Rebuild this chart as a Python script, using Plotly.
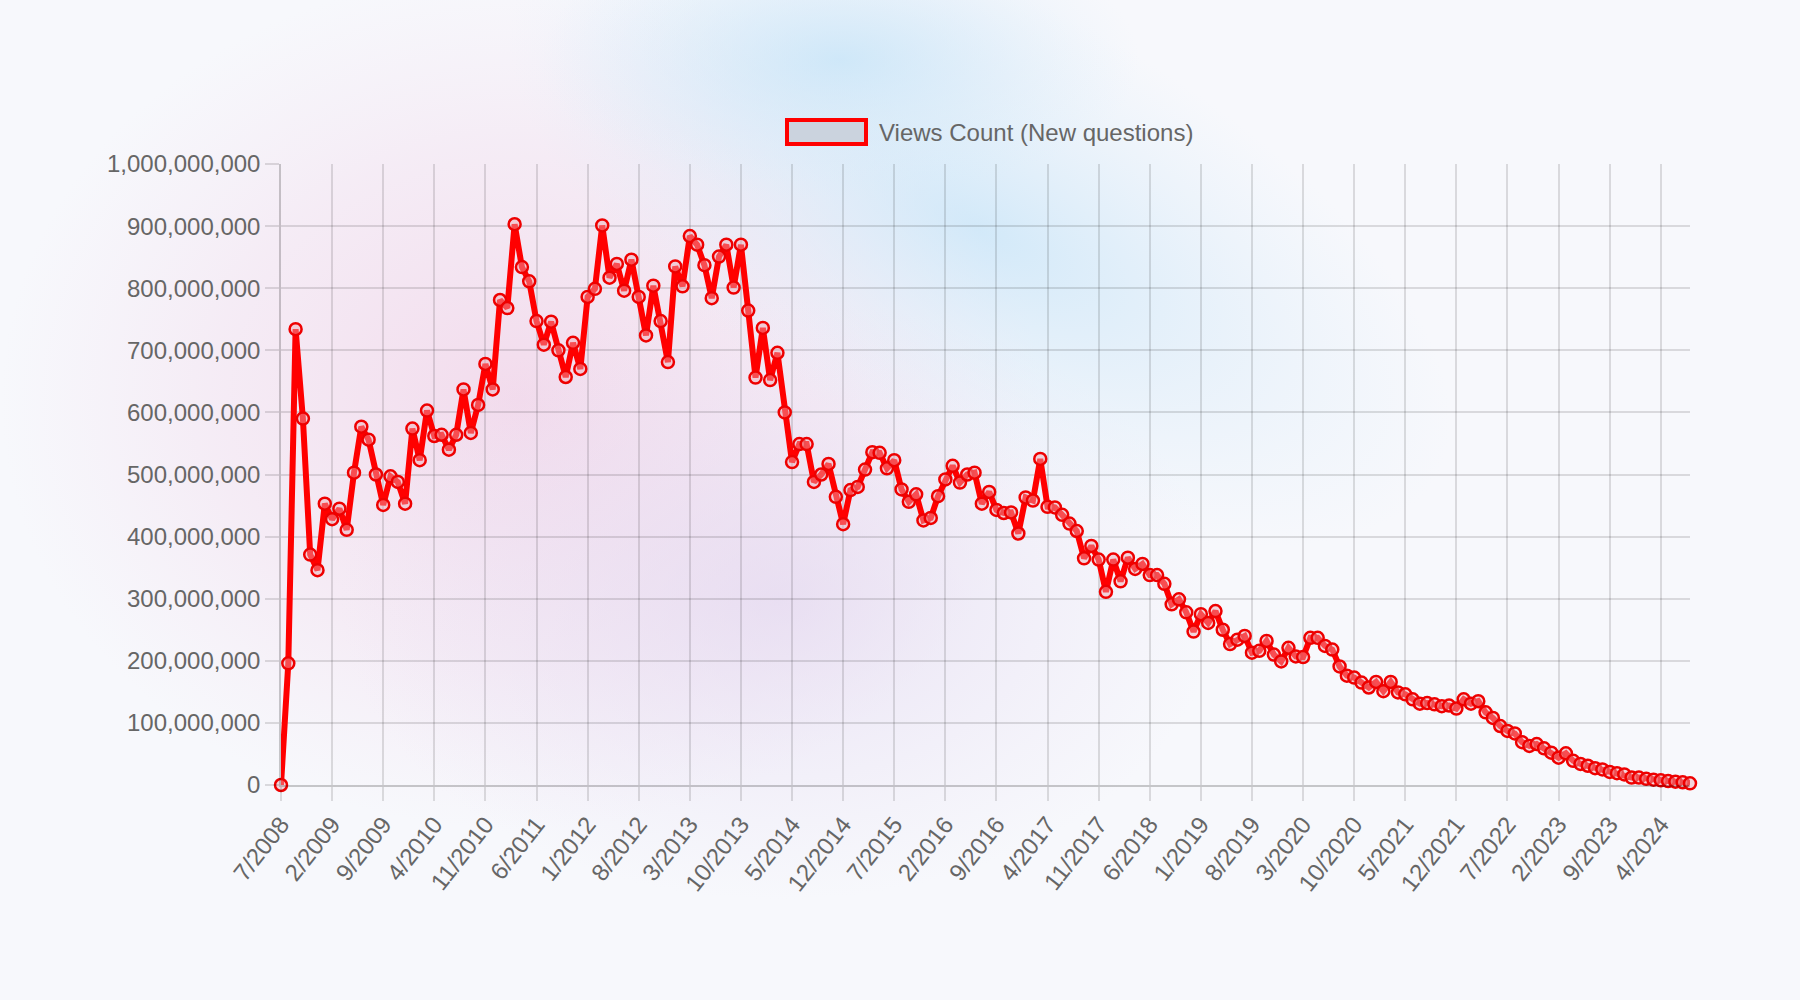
import base64
import plotly.graph_objects as go

# ---------------- data (views in millions) ----------------
start_year, start_month = 2008, 7
n_months = 194
months = []
y, m = start_year, start_month
for _ in range(n_months):
    months.append(f"{m}/{y}")
    m += 1
    if m > 12:
        m = 1
        y += 1

views_2008_2011 = [0, 196, 734, 590, 371, 346, 453, 428, 445, 411, 503, 577, 556, 500,
                   451, 497, 488, 453, 574, 523, 603, 562, 564, 540, 564, 637, 567, 612,
                   678, 637, 781, 768, 903, 834, 811, 747, 709, 746, 700, 657, 712, 670]
views_2012_2015 = [786, 799, 901, 817, 839, 796, 846, 786, 724, 804, 747, 681, 835, 803,
                   884, 870, 837, 784, 851, 870, 801, 870, 764, 656, 736, 652, 696, 600,
                   520, 549, 549, 488, 500, 517, 464, 420, 475, 480, 508, 536, 535, 510,
                   523, 476, 456, 468, 426, 430]
views_2016_2019 = [465, 492, 514, 487, 500, 503, 453, 472, 443, 438, 439, 405, 463, 458,
                   525, 448, 447, 435, 421, 409, 365, 385, 363, 311, 363, 328, 366, 348,
                   356, 338, 338, 324, 291, 299, 278, 247, 275, 261, 280, 250, 227, 234,
                   240, 213, 216, 232, 210, 199]
views_2020_2024 = [221, 207, 206, 237, 237, 224, 218, 191, 176, 173, 165, 157, 166, 151,
                   166, 149, 146, 138, 131, 132, 130, 127, 128, 123, 138, 131, 135, 117,
                   108, 95, 87, 83, 69, 63, 66, 59, 52, 44, 51, 39, 34, 31, 27, 25, 21,
                   19, 17, 12, 12, 10, 8.5, 7.5, 6.4, 5.3, 4.3, 2.7]
views_millions = views_2008_2011 + views_2012_2015 + views_2016_2019 + views_2020_2024
views = [v * 1e6 for v in views_millions]
tick_labels = months[::7]
series_name = "Views Count (New questions)"

# ---------------- layout geometry ----------------
W, H = 1800, 1000
L, R, T, B = 281, 110, 164, 215
PW, PH = W - L - R, H - T - B


def px_x(x):
    return (x - L) / PW


def px_y(yv):
    return (H - B - yv) / PH


FONT = "Liberation Sans, Arial, Helvetica, sans-serif"
GRID = "rgba(0,0,0,0.12)"
AXIS = "rgba(0,0,0,0.2)"

svg = f'''<svg xmlns="http://www.w3.org/2000/svg" width="{W}" height="{H}" viewBox="0 0 {W} {H}">
<defs>
<radialGradient id="p"><stop offset="0" stop-color="#efc3df" stop-opacity="0.55"/><stop offset="0.6" stop-color="#efc8e2" stop-opacity="0.25"/><stop offset="1" stop-color="#f0d0e6" stop-opacity="0"/></radialGradient>
<radialGradient id="b"><stop offset="0" stop-color="#c6e4f8" stop-opacity="0.75"/><stop offset="0.6" stop-color="#d2e8f8" stop-opacity="0.3"/><stop offset="1" stop-color="#d8ecfa" stop-opacity="0"/></radialGradient>
<radialGradient id="v"><stop offset="0" stop-color="#e2d6ef" stop-opacity="0.65"/><stop offset="1" stop-color="#e6dcf2" stop-opacity="0"/></radialGradient>
</defs>
<rect width="{W}" height="{H}" fill="#f7f8fc"/>
<ellipse cx="520" cy="400" rx="520" ry="430" fill="url(#p)"/>
<ellipse cx="780" cy="600" rx="440" ry="300" fill="url(#v)"/>
<ellipse cx="980" cy="230" rx="520" ry="230" fill="url(#b)" transform="rotate(28 980 230)"/>
<ellipse cx="840" cy="60" rx="300" ry="140" fill="url(#b)"/>
</svg>'''
bg_src = "data:image/svg+xml;base64," + base64.b64encode(svg.encode()).decode()

fig = go.Figure()
fig.add_trace(go.Scatter(
    x=months, y=views, mode="lines+markers", name=series_name,
    line=dict(color="#ff0000", width=6),
    marker=dict(symbol="circle", size=12, color="rgba(240,170,180,0.45)",
                line=dict(color="#ee0000", width=2.5)),
    cliponaxis=False, showlegend=False,
))

fig.update_layout(
    width=W, height=H,
    margin=dict(l=L, r=R, t=T, b=B),
    paper_bgcolor="#f7f8fc", plot_bgcolor="rgba(0,0,0,0)",
    font=dict(family=FONT, size=24, color="#666666"),
    images=[dict(source=bg_src, xref="paper", yref="paper",
                 x=-L / PW, y=1 + T / PH, sizex=W / PW, sizey=H / PH,
                 xanchor="left", yanchor="top", sizing="stretch", layer="below")],
    xaxis=dict(type="category", range=[0, n_months - 1], tickmode="array",
               tickvals=tick_labels, ticktext=tick_labels, tickangle=-52,
               showgrid=True, gridcolor=GRID, gridwidth=1.5,
               ticks="outside", ticklen=14, tickcolor=GRID, tickwidth=1.5,
               showline=True, linecolor=AXIS, linewidth=1.5,
               tickfont=dict(size=24, color="#666666"), zeroline=False),
    yaxis=dict(range=[0, 1e9], dtick=1e8, tickformat=",d",
               showgrid=True, gridcolor=GRID, gridwidth=1.5,
               ticks="outside", ticklen=14, tickcolor=GRID, tickwidth=1.5,
               showline=True, linecolor=AXIS, linewidth=1.5,
               tickfont=dict(size=24, color="#666666"), zeroline=False),
    shapes=[dict(type="rect", xref="paper", yref="paper",
                 x0=px_x(787), x1=px_x(866), y0=px_y(144), y1=px_y(120),
                 fillcolor="rgba(201,208,218,0.9)", line=dict(color="#ff0000", width=4))],
    annotations=[dict(text=series_name, xref="paper", yref="paper",
                      x=px_x(877), y=px_y(132), xanchor="left", yanchor="middle",
                      showarrow=False, font=dict(size=24, color="#666666"))],
)

fig.write_html("out.html")
